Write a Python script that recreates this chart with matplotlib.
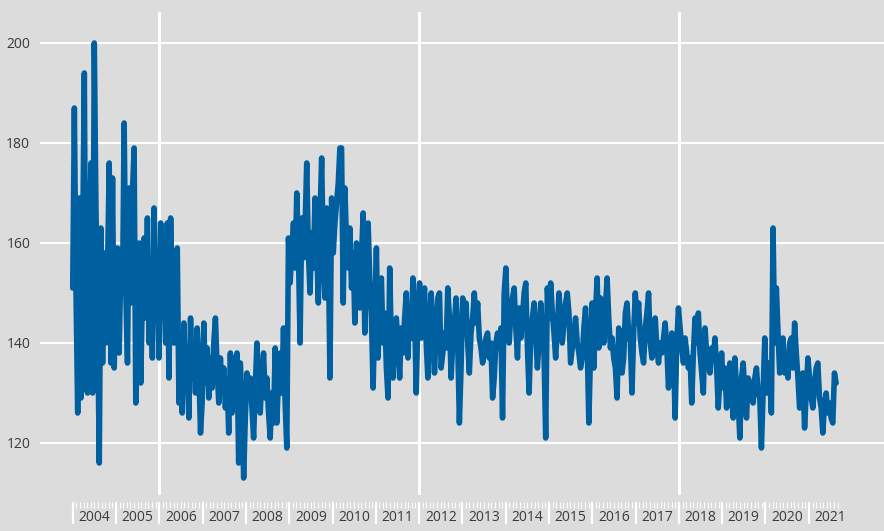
import matplotlib
matplotlib.use("Agg")
import matplotlib.pyplot as plt
import matplotlib.dates as mdates
import matplotlib.transforms as mtransforms
from matplotlib.ticker import FixedLocator, NullFormatter
import pandas as pd

# ---- data (bi-weekly readings, one list per year) ----
v2004 = [151, 187, 150, 126, 169, 129, 160, 194, 131, 130, 162, 176, 130, 200, 167, 145, 116, 163, 136, 158, 140, 155, 176, 136, 173, 135]
v2005 = [152, 159, 138, 156, 150, 184, 150, 136, 171, 148, 170, 179, 128, 152, 160, 132, 150, 161, 145, 165, 140, 155, 137, 167, 148, 155]
v2006 = [137, 164, 145, 155, 140, 164, 133, 165, 148, 140, 152, 159, 128, 140, 126, 144, 131, 137, 125, 145, 133, 140, 130, 143, 135, 122]
v2007 = [128, 144, 132, 139, 129, 137, 131, 140, 145, 135, 128, 137, 130, 135, 127, 133, 122, 138, 126, 137, 131, 138, 116, 136, 128, 113]
v2008 = [125, 134, 129, 133, 127, 121, 131, 140, 130, 126, 134, 138, 129, 133, 126, 121, 130, 124, 139, 124, 133, 138, 130, 143, 128, 119]
v2009 = [161, 152, 158, 164, 155, 170, 158, 140, 165, 157, 163, 176, 158, 150, 162, 155, 169, 160, 148, 165, 177, 157, 149, 167, 160, 133]
v2010 = [169, 158, 164, 168, 172, 179, 179, 148, 171, 160, 155, 163, 151, 158, 144, 160, 152, 147, 157, 166, 142, 155, 164, 153, 145, 131]
v2011 = [145, 159, 137, 150, 153, 140, 146, 135, 129, 155, 140, 133, 143, 145, 140, 133, 143, 138, 145, 150, 137, 147, 141, 153, 146, 130]
v2012 = [145, 152, 141, 147, 151, 140, 133, 144, 150, 141, 134, 143, 149, 150, 135, 138, 142, 139, 151, 145, 133, 140, 144, 149, 140, 124]
v2013 = [135, 149, 143, 148, 140, 134, 142, 145, 150, 144, 148, 141, 139, 136, 138, 141, 142, 137, 140, 129, 133, 140, 142, 139, 143, 125]
v2014 = [150, 155, 144, 140, 146, 149, 151, 143, 137, 147, 141, 145, 150, 152, 139, 130, 141, 145, 148, 142, 135, 140, 148, 143, 138, 121]
v2015 = [151, 145, 152, 146, 142, 137, 143, 150, 145, 140, 144, 148, 150, 146, 136, 139, 142, 145, 140, 138, 135, 137, 143, 147, 140, 124]
v2016 = [138, 148, 135, 146, 153, 139, 149, 144, 140, 147, 153, 145, 139, 141, 137, 135, 129, 143, 140, 134, 137, 146, 148, 142, 140, 130]
v2017 = [142, 150, 144, 148, 141, 138, 136, 143, 146, 150, 140, 137, 142, 145, 139, 136, 140, 138, 141, 144, 139, 131, 137, 142, 138, 125]
v2018 = [140, 147, 143, 139, 136, 141, 138, 135, 137, 128, 138, 145, 140, 146, 138, 134, 130, 143, 138, 136, 134, 139, 137, 141, 135, 127]
v2019 = [133, 138, 131, 135, 127, 132, 136, 130, 125, 137, 131, 128, 121, 133, 136, 130, 125, 133, 132, 129, 128, 133, 135, 130, 129, 119]
v2020 = [130, 141, 130, 136, 133, 126, 163, 140, 151, 142, 134, 140, 141, 134, 136, 133, 140, 141, 135, 144, 138, 133, 127, 131, 134, 123]
v2021 = [130, 137, 133, 129, 127, 132, 135, 136, 129, 127, 122, 128, 130, 126, 128, 125, 124, 134, 132]

values = (v2004 + v2005 + v2006 + v2007 + v2008 + v2009 + v2010 + v2011 + v2012
          + v2013 + v2014 + v2015 + v2016 + v2017 + v2018 + v2019 + v2020 + v2021)
years = list(range(2004, 2022))
y_ticks = [120, 140, 160, 180, 200]

dates = pd.date_range("2004-01-01", periods=len(values), freq="14D")

BG = "#DCDCDC"
LINE = "#005F9F"
TXT = "#3A3A3A"

plt.rcParams["font.family"] = ["Open Sans", "DejaVu Sans"]

fig = plt.figure(figsize=(8.84, 5.31), dpi=100, facecolor=BG)
ax = fig.add_axes([40 / 884, 36 / 531, 844 / 884, 483 / 531])
ax.set_facecolor(BG)

ax.plot(dates, values, color=LINE, linewidth=4.0, solid_joinstyle="round",
        solid_capstyle="round", zorder=3)

ax.set_ylim(109.6, 206.2)
ax.set_xlim(pd.Timestamp("2003-03-31"), pd.Timestamp("2022-09-27"))

for s in ax.spines.values():
    s.set_visible(False)

# y axis
ax.set_yticks(y_ticks)
ax.set_yticklabels([str(t) for t in y_ticks])
ax.tick_params(axis="y", length=0, pad=7, labelsize=10, labelcolor=TXT)
ax.yaxis.grid(True, color="white", linewidth=1.5, zorder=1)

# vertical reference lines (grid) every 6 years
for yr in [2006, 2012, 2018]:
    ax.axvline(pd.Timestamp(f"{yr}-01-01"), color="white", linewidth=2.2, zorder=1)

# x axis: long ticks at year starts, short monthly ticks, labels at mid-year
off = -6.5 / 483
ax.spines["bottom"].set_position(("axes", off))
ax.spines["bottom"].set_visible(False)
year_starts = mdates.date2num([pd.Timestamp(f"{y}-01-01") for y in years])
ax.xaxis.set_major_locator(FixedLocator(year_starts))
ax.xaxis.set_major_formatter(NullFormatter())
months = pd.date_range("2004-01-01", "2021-09-01", freq="MS")
ax.xaxis.set_minor_locator(FixedLocator(mdates.date2num(months)))
ax.xaxis.set_minor_formatter(NullFormatter())
ax.tick_params(axis="x", which="major", length=16, width=1.6, color="white", direction="out")
ax.tick_params(axis="x", which="minor", length=4.5, width=0.8, color="white", direction="out")

trans = mtransforms.blended_transform_factory(ax.transData, ax.transAxes)
for y in years:
    ax.text(pd.Timestamp(f"{y}-07-02"), (495 - 517.5) / 483, str(y), transform=trans,
            ha="center", va="center", fontsize=10, color=TXT, clip_on=False)

fig.savefig("out.png", dpi=100, facecolor=BG)
